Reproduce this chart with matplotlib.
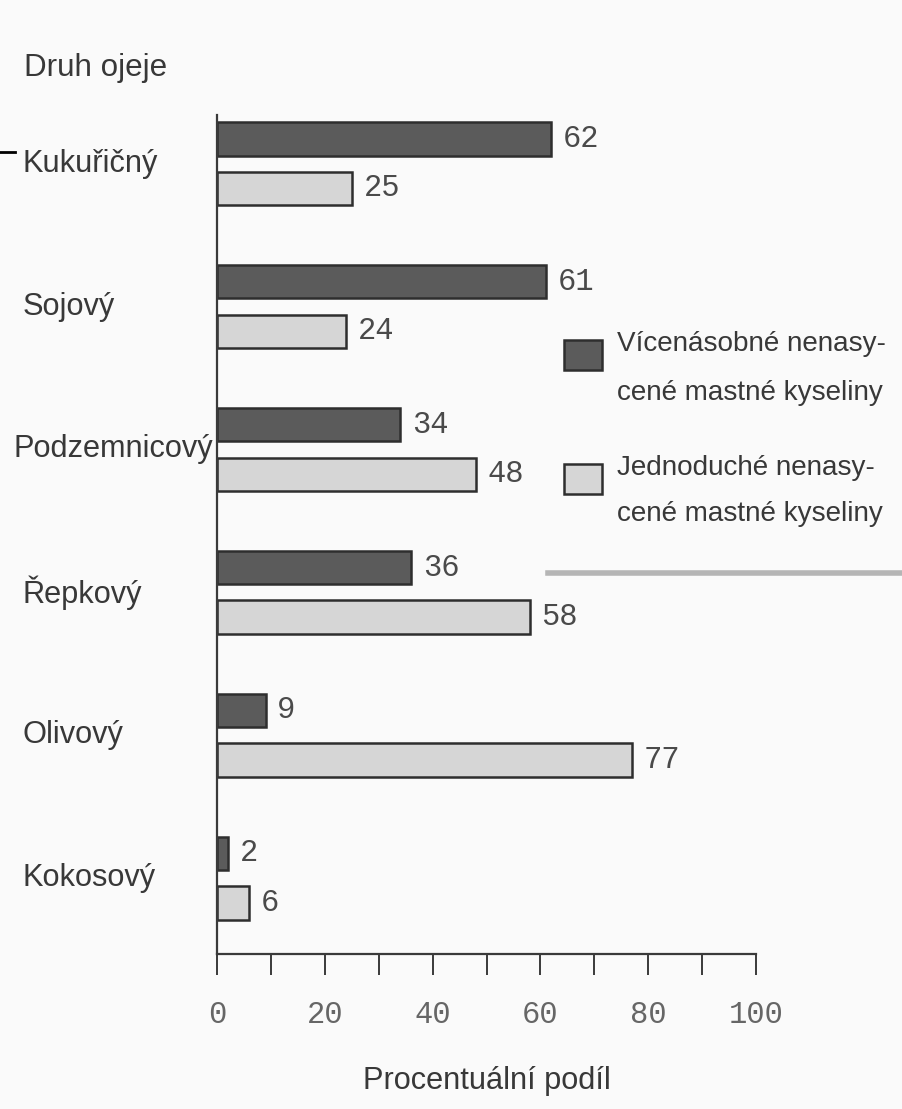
import numpy as np
import matplotlib
matplotlib.use("Agg")
import matplotlib.pyplot as plt
from matplotlib import font_manager
from matplotlib.patches import Rectangle
from matplotlib.lines import Line2D

categories = ["Kukuřičný", "Sojový", "Podzemnicový", "Řepkový", "Olivový", "Kokosový"]
poly = [62, 61, 34, 36, 9, 2]
mono = [25, 24, 48, 58, 77, 6]
legend_labels = ["Vícenásobné nenasy-\ncené mastné kyseliny",
                 "Jednoduché nenasy-\ncené mastné kyseliny"]
xticks = [0, 20, 40, 60, 80, 100]
ylabel_top = "Druh ojeje"
xlabel = "Procentuální podíl"

names = {f.name for f in font_manager.fontManager.ttflist}
if "Liberation Sans Narrow" in names:
    SANS, k = "Liberation Sans Narrow", 1.0
else:
    SANS, k = "Liberation Sans", 0.82
MONO = "Liberation Mono"

W, H = 902, 1109
fig = plt.figure(figsize=(W / 100, H / 100), dpi=100, facecolor="#fafafa")

def fx(px):
    return px / W

def fy(py):
    return 1 - py / H

ax_l, ax_r, ax_t, ax_b = 217, 756, 115, 954
ax = fig.add_axes([fx(ax_l), fy(ax_b), fx(ax_r) - fx(ax_l), fy(ax_t) - fy(ax_b)])
ax.set_facecolor("none")

dark = "#5b5b5b"
light = "#d6d6d6"
edge = "#2e2e2e"
txtc = "#4a4a4a"
labc = "#383838"

y = np.arange(len(categories))
off = 0.174
h = 0.235
ax.barh(y - off, poly, height=h, color=dark, edgecolor=edge, linewidth=1.8)
ax.barh(y + off, mono, height=h, color=light, edgecolor=edge, linewidth=1.8)

for yi, v in zip(y - off, poly):
    ax.text(v + 2.2, yi, str(v), va="center", ha="left", fontsize=22,
            family=MONO, color=txtc)
for yi, v in zip(y + off, mono):
    ax.text(v + 2.2, yi, str(v), va="center", ha="left", fontsize=22,
            family=MONO, color=txtc)

ax.set_xlim(0, 100)
ax.set_ylim(5.53, -0.34)
ax.spines["top"].set_visible(False)
ax.spines["right"].set_visible(False)
for s in ("left", "bottom"):
    ax.spines[s].set_color("#3a3a3a")
    ax.spines[s].set_linewidth(1.6)
ax.set_yticks([])
ax.set_xticks(np.arange(0, 101, 10))
ax.set_xticklabels([str(t) if t in xticks else "" for t in range(0, 101, 10)],
                   family=MONO, fontsize=22, color="#666666")
ax.tick_params(axis="x", direction="out", length=15, width=1.4, color="#3a3a3a", pad=18)

for yi, c in zip(y, categories):
    xa = -0.378 if c == "Podzemnicový" else -0.36
    ax.text(xa, yi, c, transform=ax.get_yaxis_transform(), ha="left", va="center",
            fontsize=27 * k, family=SANS, color=labc)

ax.set_xlabel(xlabel, fontsize=27 * k, family=SANS, color=labc, labelpad=26)
fig.text(fx(24), fy(68), ylabel_top, fontsize=27.5 * k, family=SANS,
         color=labc, ha="left", va="center")

# legend drawn manually
box_tops = [340, 464]
baselines = [(351, 400), (475, 521)]
for lab, col, top, bl in zip(legend_labels, [dark, light], box_tops, baselines):
    fig.patches.append(Rectangle((fx(564), fy(top + 30)), fx(602) - fx(564),
                                 fy(top) - fy(top + 30),
                                 transform=fig.transFigure, facecolor=col, edgecolor=edge,
                                 linewidth=1.8))
    for line, b in zip(lab.split("\n"), bl):
        fig.text(fx(617), fy(b), line, fontsize=24.5 * k, family=SANS,
                 color=labc, ha="left", va="baseline")

# scan artifacts
fig.add_artist(Line2D([fx(548), fx(902)], [fy(573), fy(573)], color="#b5b5b5", lw=4,
                      transform=fig.transFigure))
fig.add_artist(Line2D([fx(0), fx(15)], [fy(152), fy(152)], color="black", lw=2,
                      transform=fig.transFigure))

fig.savefig("out.png", dpi=100, facecolor=fig.get_facecolor())
